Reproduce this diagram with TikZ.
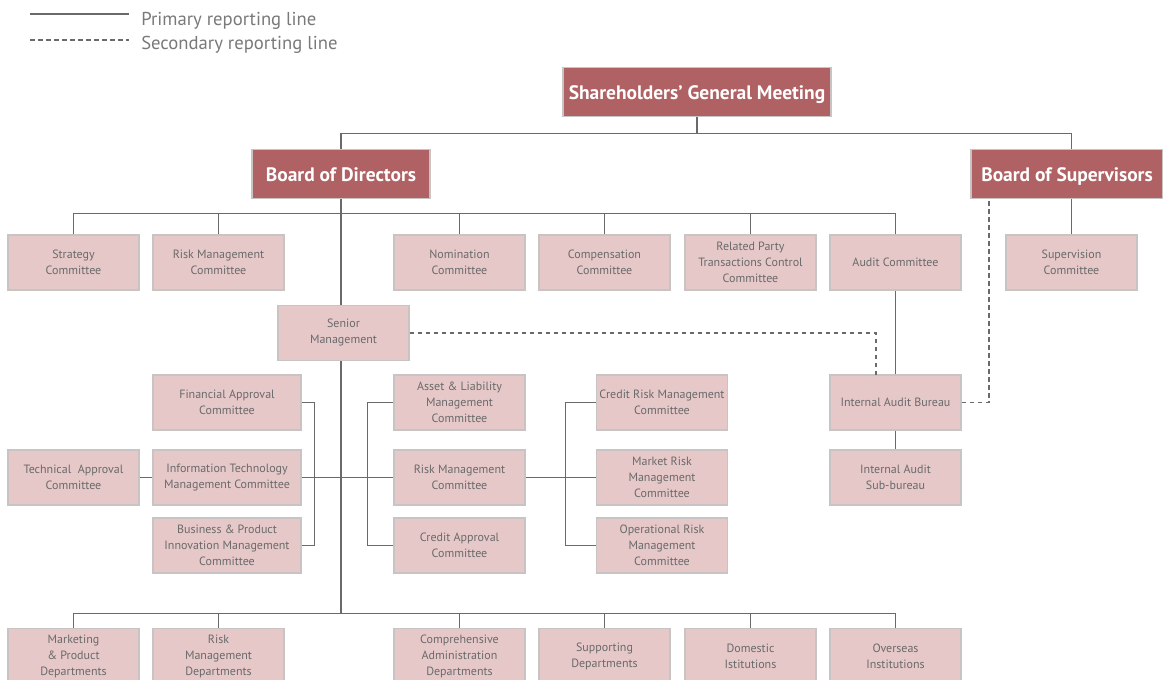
\documentclass[tikz,border=0pt]{standalone}
\usepackage{fontspec}
\setmainfont{PT Sans}
\definecolor{boxdark}{HTML}{B06163}
\definecolor{boxlight}{HTML}{E6C8C9}
\definecolor{boxedge}{HTML}{C9C4C4}
\definecolor{linec}{HTML}{6A6A6A}
\definecolor{txt}{HTML}{6A6A6A}
\begin{document}
\begin{tikzpicture}[x=0.75pt,y=-0.75pt,
  dark/.style={rectangle, fill=boxdark, draw=boxedge, line width=1.2pt, text=white,
    font=\bfseries\fontsize{14.6}{17}\selectfont, minimum height=36.75pt, inner sep=0pt,
    text height=13pt, text depth=1pt},
  light/.style={rectangle, fill=boxlight, draw=boxedge, line width=1.2pt, text=txt,
    font=\fontsize{9}{12}\selectfont, minimum width=98.25pt, minimum height=41.25pt,
    inner sep=0pt, align=center},
  wide/.style={light, minimum width=111pt},
  conn/.style={draw=linec, line width=0.9pt},
  sec/.style={draw=linec, line width=0.9pt, dash pattern=on 3.5pt off 2.5pt},
  legtext/.style={text=txt!90, font=\fontsize{14}{16}\selectfont, anchor=base west, inner sep=0pt}]
\useasboundingbox (0,0) rectangle (1163,680);
\clip (0,0) rectangle (1163,680);
% legend
\coordinate (l1a) at (30,14); \coordinate (l1b) at (129,14);
\coordinate (l2a) at (30,40); \coordinate (l2b) at (129,40);
\draw[conn] (l1a) -- (l1b);
\draw[sec] (l2a) -- (l2b);
\node[legtext] (lt1) at (141,26) {Primary reporting line};
\node[legtext] (lt2) at (141,50) {Secondary reporting line};
% top
\node[dark, minimum width=201pt] (sgm) at (697,92) {Shareholders\char"0027\ General Meeting};
\node[dark, minimum width=133.5pt] (bod) at (341,174) {Board of Directors};
\node[dark, minimum width=144pt] (bos) at (1067,174) {Board of Supervisors};
% committees row
\node[light] (strat) at (73.5,262.5) {Strategy\\Committee};
\node[light] (rmc1) at (218.5,262.5) {Risk Management\\Committee};
\node[light] (nom) at (459.5,262.5) {Nomination\\Committee};
\node[light] (comp) at (604.5,262.5) {Compensation\\Committee};
\node[light] (rpt) at (750.5,262.5) {Related Party\\Transactions Control\\Committee};
\node[light] (aud) at (895.5,262.5) {Audit Committee};
\node[light] (sup) at (1071.5,262.5) {Supervision\\Committee};
% senior management
\node[light] (sm) at (343.5,333) {Senior\\Management};
% middle
\node[wide] (fa) at (227,402.5) {Financial Approval\\Committee};
\node[wide] (it) at (227,477.5) {Information Technology\\Management Committee};
\node[wide] (bp) at (227,545.5) {Business \& Product\\Innovation Management\\Committee};
\node[light] (tech) at (73.5,477.5) {Technical~ Approval\\Committee};
\node[light] (alm) at (459.5,402.5) {Asset \& Liability\\Management\\Committee};
\node[light] (rmc2) at (459.5,477.5) {Risk Management\\Committee};
\node[light] (ca) at (459.5,545.5) {Credit Approval\\Committee};
\node[light] (crm) at (662,402.5) {Credit Risk Management\\Committee};
\node[light] (mr) at (662,477.5) {Market Risk\\Management\\Committee};
\node[light] (orm) at (662,545.5) {Operational Risk\\Management\\Committee};
\node[light] (iab) at (895.5,402.5) {Internal Audit Bureau};
\node[light] (iasb) at (895.5,477.5) {Internal Audit\\Sub-bureau};
% bottom row
\node[light] (mkt) at (73.5,656) {Marketing\\\& Product\\Departments};
\node[light] (rmd) at (218.5,656) {Risk\\Management\\Departments};
\node[light] (cad) at (459.5,656) {Comprehensive\\Administration\\Departments};
\node[light] (spd) at (604.5,656) {Supporting\\Departments};
\node[light] (dom) at (750.5,656) {Domestic\\Istitutions};
\node[light] (ovs) at (895.5,656) {Overseas\\Institutions};
% coordinates
\coordinate (bus3) at (341,614);
\coordinate (d1) at (876,375);
\coordinate (d2) at (989,198);
% connectors
\draw[conn] (sgm.south) -- ++(0,16) -| (bod.north);
\draw[conn] (sgm.south) -- ++(0,16) -| (sup.north |- bos.north);
\draw[conn] (bod.south) -- (sm.north -| bod.south);
\draw[conn] (strat.north) -- ++(0,-21) -| (aud.north);
\draw[conn] (rmc1.north) -- ++(0,-21);
\draw[conn] (nom.north) -- ++(0,-21);
\draw[conn] (comp.north) -- ++(0,-21);
\draw[conn] (rpt.north) -- ++(0,-21);
\draw[conn] (sup.north) -- (sup.north |- bos.south);
\draw[conn] (sm.south -| bod.south) -- (bus3);
\draw[conn] (mkt.north) -- ++(0,-14) -| (ovs.north);
\draw[conn] (rmd.north) -- ++(0,-14);
\draw[conn] (cad.north) -- ++(0,-14);
\draw[conn] (spd.north) -- ++(0,-14);
\draw[conn] (dom.north) -- ++(0,-14);
\draw[conn] (tech.east) -- (it.west);
\draw[conn] (it.east) -- (rmc2.west);
\draw[conn] (fa.east) -- ++(13,0) |- (bp.east);
\draw[conn] (alm.west) -- ++(-26,0) |- (ca.west);
\draw[conn] (rmc2.east) -- (mr.west);
\draw[conn] (crm.west) -- ++(-30,0) |- (orm.west);
\draw[conn] (aud.south) -- (iab.north);
\draw[conn] (iab.south) -- (iasb.north);
\draw[sec] (sm.east) -| (d1);
\draw[sec] (iab.east) -| (d2);
\end{tikzpicture}
\end{document}
